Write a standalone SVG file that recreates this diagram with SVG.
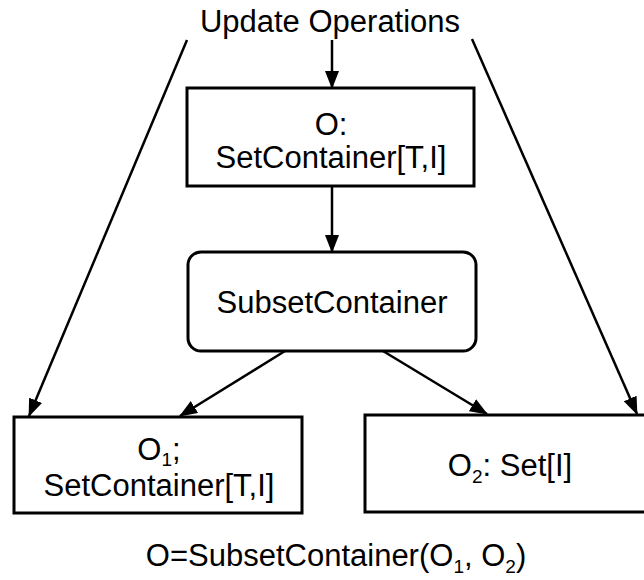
<svg xmlns="http://www.w3.org/2000/svg" width="644" height="580" viewBox="0 0 644 580">
  <style>
    .box { fill: #ffffff; stroke: #000000; stroke-width: 3; }
    .edge { fill: none; stroke: #000000; stroke-width: 2.5; marker-end: url(#arrow); }
    text { font-family: "Liberation Sans", Arial, Helvetica, sans-serif; font-size: 31px; fill: #000000; text-anchor: middle; }
    .sub { font-size: 19px; }
  </style>
  <defs>
    <marker id="arrow" markerUnits="userSpaceOnUse" markerWidth="18" markerHeight="14" viewBox="0 0 18 14" refX="17" refY="7" orient="auto">
      <path d="M0,0 L18,7 L0,14 Z" fill="#000000"/>
    </marker>
  </defs>

  <rect width="644" height="580" fill="#ffffff"/>

  <!-- connectors -->
  <g id="connectors">
    <line class="edge" x1="332" y1="40" x2="332" y2="88"/>
    <line class="edge" x1="332" y1="186" x2="332" y2="252"/>
    <line class="edge" x1="187" y1="40" x2="29" y2="416"/>
    <line class="edge" x1="472" y1="39" x2="637" y2="414"/>
    <line class="edge" x1="285" y1="351" x2="180" y2="416"/>
    <line class="edge" x1="383" y1="351" x2="487" y2="414"/>
  </g>

  <!-- source label -->
  <g id="update-operations">
    <text x="330" y="32">Update Operations</text>
  </g>

  <g id="node-o">
    <rect class="box" x="187" y="88" width="287" height="98"/>
    <text x="331" y="135">O:</text>
    <text x="331" y="168">SetContainer[T,I]</text>
  </g>

  <g id="node-subset">
    <rect class="box" x="188" y="252" width="288" height="99" rx="13" ry="13"/>
    <text x="332" y="313">SubsetContainer</text>
  </g>

  <g id="node-o1">
    <rect class="box" x="14" y="417" width="288" height="96"/>
    <text x="159" y="460">O<tspan class="sub" dy="6">1</tspan><tspan dy="-6">;</tspan></text>
    <text x="159" y="496">SetContainer[T,I]</text>
  </g>

  <g id="node-o2">
    <rect class="box" x="365" y="415" width="290" height="97"/>
    <text x="510" y="476">O<tspan class="sub" dy="7">2</tspan><tspan dy="-7">: Set[I]</tspan></text>
  </g>

  <!-- composition formula -->
  <g id="formula">
    <text x="336" y="566">O=SubsetContainer(O<tspan class="sub" dy="7">1</tspan><tspan dy="-7">, O</tspan><tspan class="sub" dy="7">2</tspan><tspan dy="-7">)</tspan></text>
  </g>
</svg>
